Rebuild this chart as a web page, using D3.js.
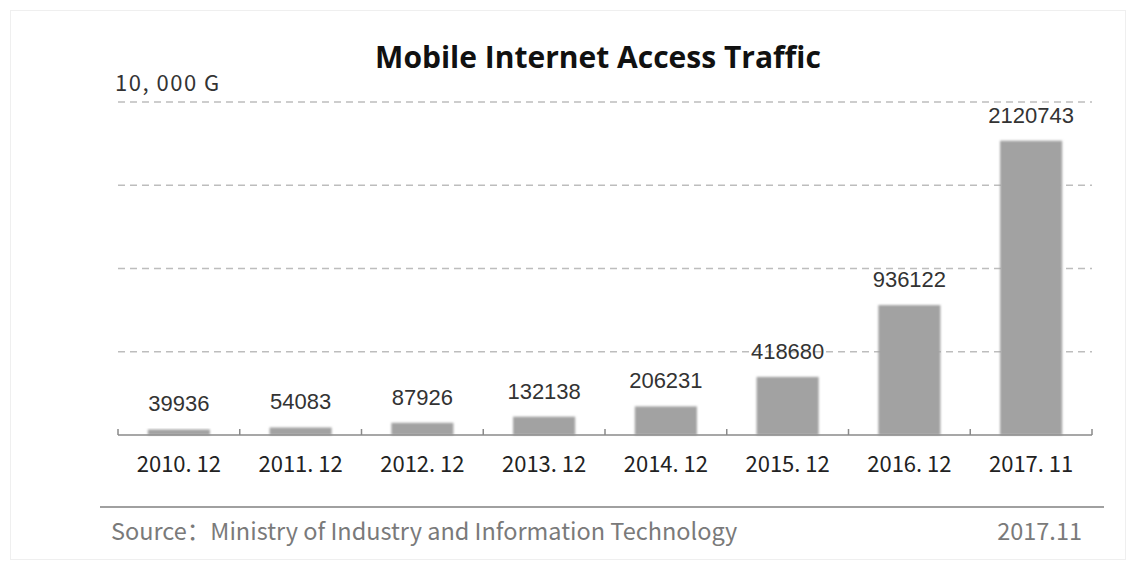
<!DOCTYPE html>
<html>
<head>
<meta charset="utf-8">
<script src="https://cdn.jsdelivr.net/npm/d3@7/dist/d3.min.js"></script>
<style>
  html, body { margin: 0; padding: 0; background: #fff; }
  svg { display: block; }
</style>
</head>
<body>
<svg id="chart" width="1136" height="570"></svg>
<script>
// Mobile internet access traffic, unit: 10,000 GB
const periods = ["2010. 12", "2011. 12", "2012. 12", "2013. 12", "2014. 12", "2015. 12", "2016. 12", "2017. 11"];
const traffic = [39936, 54083, 87926, 132138, 206231, 418680, 936122, 2120743];
const gridTicks = [600000, 1200000, 1800000, 2400000];

const svg = d3.select("#chart");

// faint outer frame
svg.append("rect")
  .attr("x", 10.5).attr("y", 10.5)
  .attr("width", 1115).attr("height", 549)
  .attr("fill", "#fff")
  .attr("stroke", "#efefef").attr("stroke-width", 1);

const plot = { left: 118, right: 1092, top: 102, bottom: 435 };

const x = d3.scaleBand()
  .domain(periods)
  .range([plot.left, plot.right])
  .paddingInner(0.49)
  .paddingOuter(0.245);

const y = d3.scaleLinear()
  .domain([0, 2400000])
  .range([plot.bottom, plot.top]);

// soft edge for bars
const defs = svg.append("defs");
const f = defs.append("filter").attr("id", "soft")
  .attr("x", "-20%").attr("y", "-20%").attr("width", "140%").attr("height", "140%");
f.append("feGaussianBlur").attr("stdDeviation", 0.8);

// dashed horizontal gridlines
svg.append("g")
  .selectAll("line")
  .data(gridTicks)
  .join("line")
  .attr("x1", plot.left).attr("x2", plot.right)
  .attr("y1", d => y(d)).attr("y2", d => y(d))
  .attr("stroke", "#bdbdbd")
  .attr("stroke-width", 1.5)
  .attr("stroke-dasharray", "7,5");

// bars
svg.append("g")
  .selectAll("rect")
  .data(traffic)
  .join("rect")
  .attr("x", (d, i) => x(periods[i]))
  .attr("y", d => y(d))
  .attr("width", x.bandwidth())
  .attr("height", d => y(0) - y(d))
  .attr("fill", "#a2a2a2")
  .attr("filter", "url(#soft)");

// value labels
svg.append("g")
  .selectAll("text")
  .data(traffic)
  .join("text")
  .attr("x", (d, i) => x(periods[i]) + x.bandwidth() / 2)
  .attr("y", d => y(d) - 18)
  .attr("text-anchor", "middle")
  .attr("font-family", "'Liberation Sans', Arial, sans-serif")
  .attr("font-size", 22)
  .attr("fill", "#333")
  .text(d => d);

// category axis with boundary tick marks
const axisG = svg.append("g");
axisG.append("line")
  .attr("x1", plot.left).attr("x2", plot.right)
  .attr("y1", y(0)).attr("y2", y(0))
  .attr("stroke", "#8a8a8a").attr("stroke-width", 1.5);

const bounds = d3.range(periods.length + 1).map(i => plot.left + i * (plot.right - plot.left) / periods.length);
axisG.selectAll("line.tick")
  .data(bounds)
  .join("line")
  .attr("class", "tick")
  .attr("x1", d => d).attr("x2", d => d)
  .attr("y1", y(0) - 6).attr("y2", y(0))
  .attr("stroke", "#8a8a8a").attr("stroke-width", 1.5);

axisG.selectAll("text")
  .data(periods)
  .join("text")
  .attr("x", d => x(d) + x.bandwidth() / 2)
  .attr("y", 472)
  .attr("text-anchor", "middle")
  .attr("font-family", "'Noto Sans CJK SC', 'DejaVu Sans', sans-serif")
  .attr("font-size", 22)
  .attr("fill", "#222")
  .text(d => d);

// unit label
svg.append("text")
  .attr("x", 115).attr("y", 91)
  .attr("font-family", "'Noto Sans CJK SC', 'DejaVu Sans', sans-serif")
  .attr("font-size", 22)
  .attr("letter-spacing", 1.5)
  .attr("fill", "#333")
  .text("10, 000 G");

// title
svg.append("text")
  .attr("x", 598).attr("y", 68)
  .attr("text-anchor", "middle")
  .attr("font-family", "'Open Sans', sans-serif")
  .attr("font-weight", 700)
  .attr("font-size", 30)
  .attr("fill", "#111")
  .text("Mobile Internet Access Traffic");

// footer rule and notes
svg.append("line")
  .attr("x1", 100).attr("x2", 1104)
  .attr("y1", 507).attr("y2", 507)
  .attr("stroke", "#a0a0a0").attr("stroke-width", 2);

svg.append("text")
  .attr("x", 111).attr("y", 540)
  .attr("font-family", "'Noto Sans CJK SC', sans-serif")
  .attr("font-size", 23.5)
  .attr("fill", "#7a7a7a")
  .text("Source：Ministry of Industry and Information Technology");

svg.append("text")
  .attr("x", 1082).attr("y", 540)
  .attr("text-anchor", "end")
  .attr("font-family", "'Noto Sans CJK SC', sans-serif")
  .attr("font-size", 23.5)
  .attr("fill", "#7a7a7a")
  .text("2017.11");
</script>
</body>
</html>
